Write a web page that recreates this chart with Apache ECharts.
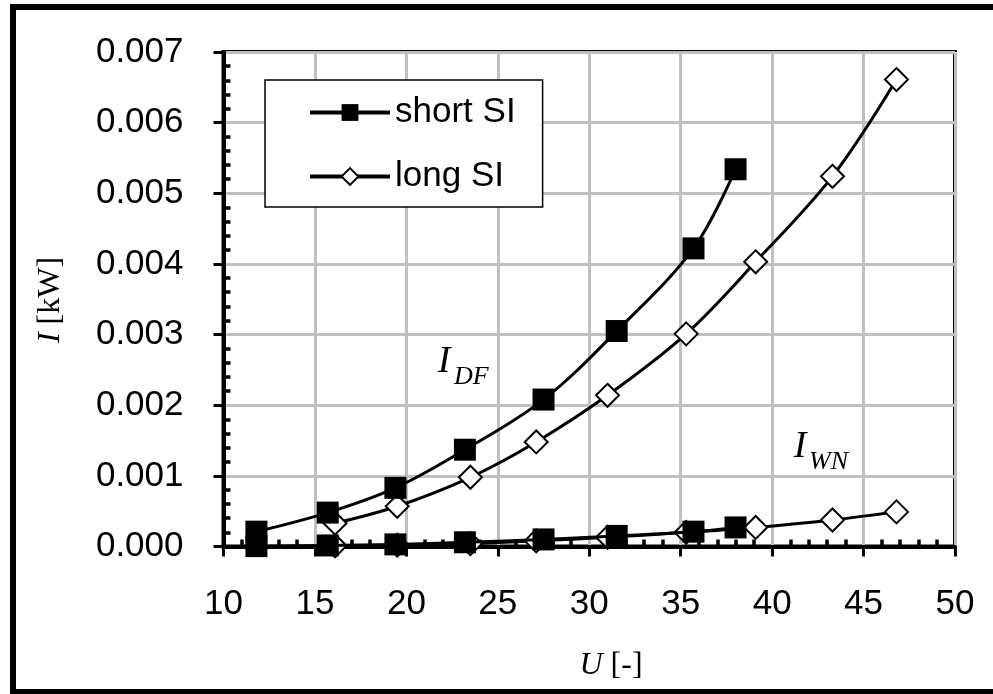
<!DOCTYPE html>
<html>
<head>
<meta charset="utf-8">
<script src="https://cdn.jsdelivr.net/npm/echarts@6/dist/echarts.min.js"></script>
<style>html,body{margin:0;padding:0;background:#fff;}#c{width:993px;height:694px;}</style>
</head>
<body>
<div id="c"></div>
<script>
// U values
const uShort = [11.8, 15.7, 19.4, 23.2, 27.5, 31.5, 35.7, 38.0];
const uLong = [16.1, 19.5, 23.5, 27.1, 31.0, 35.3, 39.1, 43.3, 46.8];
// I_DF [kW]
const iDFShort = [0.00021, 0.00048, 0.00083, 0.00137, 0.00208, 0.00305, 0.00422, 0.00534];
const iDFLong = [0.00033, 0.00057, 0.00098, 0.00148, 0.00214, 0.00301, 0.00403, 0.00524, 0.00661];
// I_WN [kW]
const iWNShort = [0.000005, 0.000015, 0.00003, 0.00006, 0.0001, 0.00015, 0.00021, 0.00027];
const iWNLong = [0.00001, 0.00002, 0.00004, 0.00008, 0.00013, 0.0002, 0.00027, 0.000375, 0.00049];
const legendNames = ['short SI', 'long SI'];
const xTicks = {min: 10, max: 50, step: 5};
const yTicks = {min: 0, max: 0.007, step: 0.001};

const zip = (xs, ys) => xs.map((x, i) => [x, ys[i]]);
const sans = 'Liberation Sans, Arial, sans-serif';
const serif = 'Liberation Serif, Times New Roman, serif';

const shortStyle = {
  type: 'line', name: legendNames[0], smooth: 0.35,
  symbol: 'rect', symbolSize: 22,
  itemStyle: {color: '#000', borderColor: '#000', borderWidth: 0},
  lineStyle: {color: '#000', width: 3}, z: 4
};
const longStyle = {
  type: 'line', name: legendNames[1], smooth: 0.35,
  symbol: 'diamond', symbolSize: 23,
  itemStyle: {color: '#fff', borderColor: '#000', borderWidth: 2},
  lineStyle: {color: '#000', width: 3}, z: 3
};

const chart = echarts.init(document.getElementById('c'), null, {renderer: 'canvas'});
chart.setOption({
  animation: false,
  backgroundColor: '#fff',
  grid: {left: 223.5, right: 38, top: 52, bottom: 147.5, show: true, borderColor: '#000', borderWidth: 4, backgroundColor: 'transparent'},
  legend: {
    data: legendNames, orient: 'vertical', left: 265, top: 80,
    padding: [15, 27, 13, 43], itemGap: 29, itemWidth: 80, itemHeight: 21,
    backgroundColor: '#fff', borderColor: '#000', borderWidth: 1.5,
    lineStyle: {width: 4},
    textStyle: {fontFamily: sans, fontSize: 35, color: '#000'}
  },
  xAxis: {
    type: 'value', min: xTicks.min, max: xTicks.max, interval: xTicks.step,
    axisLine: {show: true, onZero: false, lineStyle: {color: '#000', width: 4}},
    axisTick: {show: true, inside: true, length: -10, lineStyle: {color: '#000', width: 3}},
    minorTick: {show: true, splitNumber: 5, length: 7, lineStyle: {color: '#000', width: 3.5}},
    splitLine: {show: true, lineStyle: {color: '#c0c0c0', width: 3}},
    axisLabel: {margin: 40, fontFamily: sans, fontSize: 35, color: '#000'}
  },
  yAxis: {
    type: 'value', min: yTicks.min, max: yTicks.max, interval: yTicks.step,
    axisLine: {show: true, onZero: false, lineStyle: {color: '#000', width: 4}},
    axisTick: {show: true, inside: true, length: -10, lineStyle: {color: '#000', width: 3}},
    minorTick: {show: true, splitNumber: 5, length: 7, lineStyle: {color: '#000', width: 3.5}},
    splitLine: {show: true, lineStyle: {color: '#c0c0c0', width: 3}},
    axisLabel: {margin: 40, fontFamily: sans, fontSize: 35, color: '#000', formatter: v => v.toFixed(3)}
  },
  series: [
    Object.assign({}, longStyle, {data: zip(uLong, iDFLong)}),
    Object.assign({}, longStyle, {data: zip(uLong, iWNLong)}),
    Object.assign({}, shortStyle, {data: zip(uShort, iDFShort)}),
    Object.assign({}, shortStyle, {data: zip(uShort, iWNShort)})
  ],
  graphic: [
    {type: 'rect', shape: {x: 13, y: 7, width: 1000, height: 685}, style: {fill: 'none', stroke: '#000', lineWidth: 6}, z: 100, silent: true},
    {type: 'text', x: 51, y: 300, rotation: Math.PI / 2, style: {
      text: '{i|I} [kW]', align: 'center', verticalAlign: 'middle',
      fontFamily: serif, fontSize: 32, fill: '#000',
      rich: {i: {fontFamily: serif, fontSize: 32, fontStyle: 'italic', fill: '#000'}}
    }},
    {type: 'text', x: 611, y: 666, style: {
      text: '{i|U} [-]', align: 'center', verticalAlign: 'middle',
      fontFamily: serif, fontSize: 32, fill: '#000',
      rich: {i: {fontFamily: serif, fontSize: 32, fontStyle: 'italic', fill: '#000'}}
    }},
    {type: 'text', x: 444, y: 381, style: {text: 'I', align: 'center', verticalAlign: 'bottom', fontFamily: serif, fontSize: 38, fontStyle: 'italic', fill: '#000'}},
    {type: 'text', x: 454, y: 390, style: {text: 'DF', align: 'left', verticalAlign: 'bottom', fontFamily: serif, fontSize: 26, fontStyle: 'italic', fill: '#000'}},
    {type: 'text', x: 800, y: 466, style: {text: 'I', align: 'center', verticalAlign: 'bottom', fontFamily: serif, fontSize: 38, fontStyle: 'italic', fill: '#000'}},
    {type: 'text', x: 809, y: 475, style: {text: 'WN', align: 'left', verticalAlign: 'bottom', fontFamily: serif, fontSize: 26, fontStyle: 'italic', fill: '#000'}}
  ]
});
</script>
</body>
</html>
